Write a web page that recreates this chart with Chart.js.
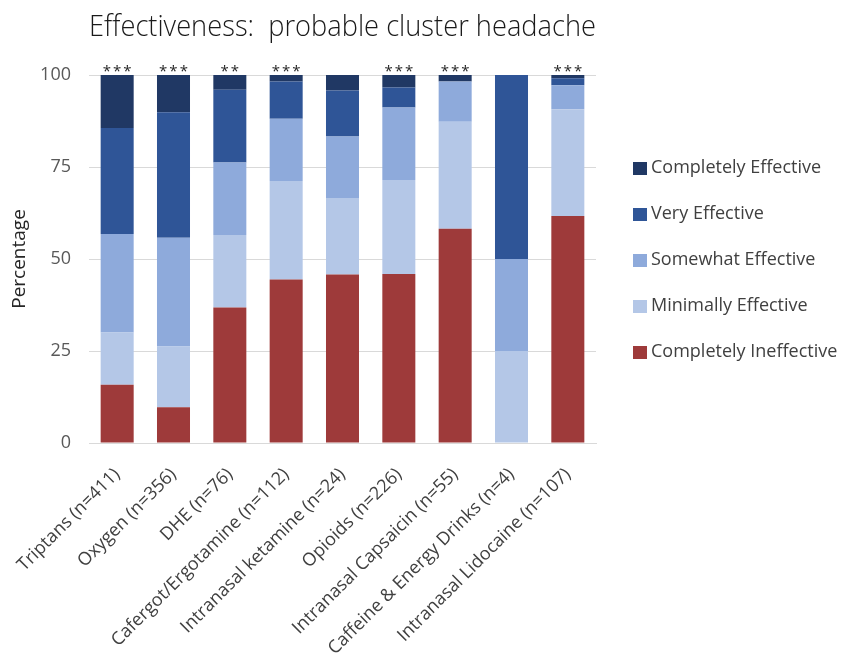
<!DOCTYPE html>
<html>
<head>
<meta charset="utf-8">
<script src="https://cdn.jsdelivr.net/npm/chart.js@4"></script>
<style>
  html, body { margin: 0; padding: 0; background: #fff; }
  #wrap { width: 845px; height: 654px; }
</style>
</head>
<body>
<div id="wrap"><canvas id="effChart"></canvas></div>
<script>
const treatments = ["Triptans (n=411)", "Oxygen (n=356)", "DHE (n=76)", "Cafergot/Ergotamine (n=112)",
    "Intranasal ketamine (n=24)", "Opioids (n=226)", "Intranasal Capsaicin (n=55)",
    "Caffeine & Energy Drinks (n=4)", "Intranasal Lidocaine (n=107)"];

// percentages, bottom of stack first
const completelyIneffective = [15.8, 9.7, 36.8, 44.4, 45.8, 45.9, 58.2, 0, 61.7];
const minimallyEffective    = [14.2, 16.5, 19.7, 26.8, 20.8, 25.6, 29.1, 25, 29.0];
const somewhatEffective     = [26.8, 29.6, 19.7, 16.9, 16.7, 19.7, 10.9, 25, 6.5];
const veryEffective         = [28.8, 34.1, 19.8, 10.1, 12.5, 5.4, 0, 50, 1.9];
const completelyEffective   = [14.4, 10.1, 4.0, 1.8, 4.2, 3.4, 1.8, 0, 0.9];

const significance = ["***", "***", "**", "***", "", "***", "***", "", "***"];
const yTicks = [0, 25, 50, 75, 100];

const fontFam = "'Open Sans', sans-serif";
const tickGrey = "#595959";

// stars above each bar
const starsPlugin = {
    id: "stars",
    afterDatasetsDraw(chart) {
        const {ctx, scales: {x, y}} = chart;
        ctx.save();
        ctx.font = "15px " + fontFam;
        ctx.letterSpacing = "2px";
        ctx.fillStyle = "#262626";
        ctx.textAlign = "center";
        ctx.textBaseline = "alphabetic";
        significance.forEach((s, i) => {
            if (s) ctx.fillText(s, x.getPixelForValue(i) + 1, y.getPixelForValue(100) + 1);
        });
        ctx.restore();
    }
};

// legend on the right, top of the stack listed first
const sideLegend = {
    id: "sideLegend",
    afterDraw(chart) {
        const {ctx, chartArea} = chart;
        const items = chart.data.datasets.slice().reverse();
        const rowGap = 46;
        const x0 = chartArea.right + 37;
        const yMid = (chartArea.top + chartArea.bottom) / 2 + 1;
        ctx.save();
        ctx.font = "18px " + fontFam;
        ctx.textBaseline = "middle";
        items.forEach((ds, i) => {
            const yy = yMid + (i - (items.length - 1) / 2) * rowGap;
            ctx.fillStyle = ds.backgroundColor;
            ctx.fillRect(x0, yy - 6, 14, 13);
            ctx.fillStyle = "#404040";
            ctx.fillText(ds.label, x0 + 18, yy);
        });
        ctx.restore();
    }
};

new Chart(document.getElementById("effChart"), {
    type: "bar",
    data: {
        labels: treatments,
        datasets: [
            { label: "Completely Ineffective", data: completelyIneffective, backgroundColor: "#9e3a3a" },
            { label: "Minimally Effective", data: minimallyEffective, backgroundColor: "#b4c7e7" },
            { label: "Somewhat Effective", data: somewhatEffective, backgroundColor: "#8eaadb" },
            { label: "Very Effective", data: veryEffective, backgroundColor: "#2f5597" },
            { label: "Completely Effective", data: completelyEffective, backgroundColor: "#203864" }
        ]
    },
    options: {
        responsive: true,
        maintainAspectRatio: false,
        animation: false,
        datasets: { bar: { categoryPercentage: 1, barPercentage: 0.586 } },
        layout: { padding: { top: 0, right: 249, bottom: 0, left: 0 } },
        plugins: {
            tooltip: { enabled: false },
            legend: { display: false },
            title: {
                display: true,
                fullSize: false,
                text: "Effectiveness:  probable cluster headache",
                color: "#1a1a1a",
                font: { family: fontFam, size: 29, weight: 300 },
                padding: { top: 10, bottom: 30.2 }
            }
        },
        scales: {
            x: {
                stacked: true,
                grid: { display: false },
                border: { display: true, color: "#d9d9d9" },
                ticks: {
                    color: "#404040",
                    font: { family: fontFam, size: 18 },
                    maxRotation: 45,
                    minRotation: 45,
                    padding: 13
                },
                afterFit: s => { s.height = 211; s.paddingLeft = 0; s.paddingRight = 0; }
            },
            y: {
                stacked: true,
                min: 0,
                max: 100,
                afterBuildTicks: s => { s.ticks = yTicks.map(v => ({ value: v })); },
                afterFit: s => { s.width = 89; },
                grid: { color: "#d9d9d9", drawTicks: false },
                border: { display: false },
                ticks: {
                    color: tickGrey,
                    font: { family: fontFam, size: 18 },
                    padding: 18
                },
                title: {
                    display: true,
                    text: "Percentage",
                    color: "#262626",
                    font: { family: fontFam, size: 19 },
                    padding: { top: 8, bottom: 4 }
                }
            }
        }
    },
    plugins: [starsPlugin, sideLegend]
});
</script>
</body>
</html>
